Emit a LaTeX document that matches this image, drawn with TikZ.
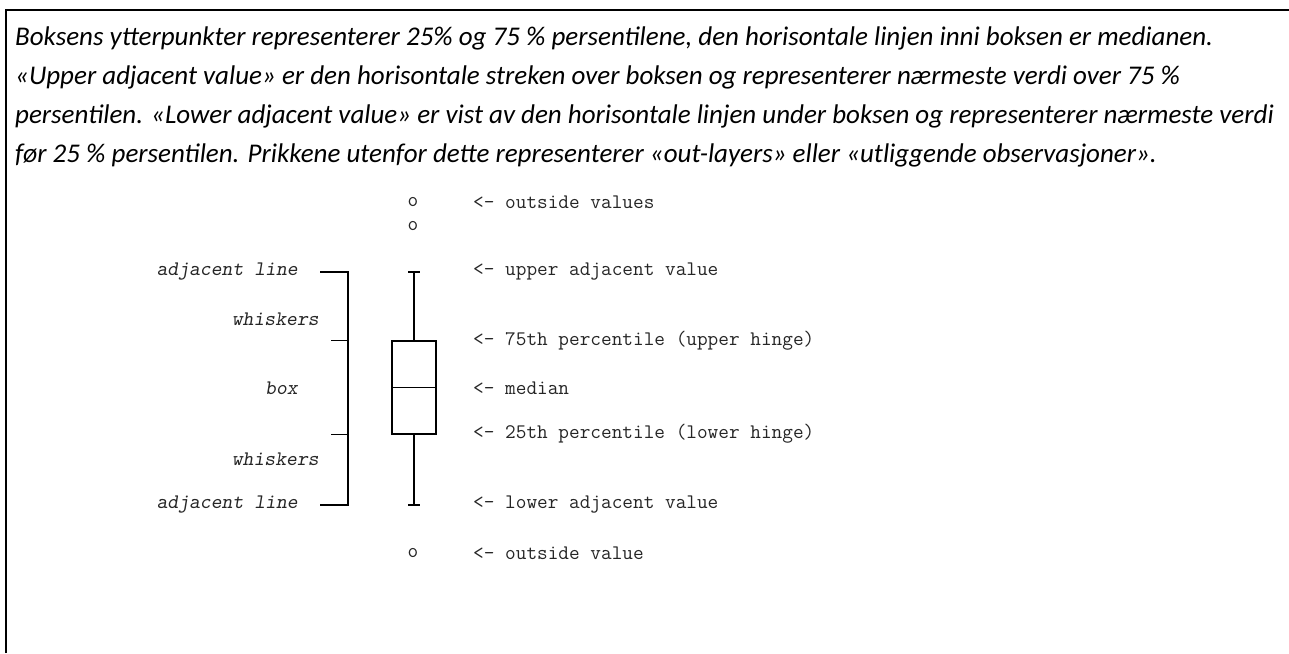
\documentclass[tikz,border=0pt]{standalone}
\usepackage{fontspec}
\usepackage{tikz}
\usetikzlibrary{positioning, calc}
\newfontfamily\calibri{Carlito}
\tikzset{
    para/.style={anchor=base west, inner sep=0pt, font=\calibri\itshape\fontsize{27}{32}\selectfont},
    note/.style={anchor=west, inner sep=0pt, text=black!85, font=\ttfamily\fontsize{20.7}{22}\selectfont},
    part/.style={anchor=east, inner sep=0pt, text=black!85, font=\ttfamily\slshape\fontsize{20.7}{22}\selectfont},
    dot/.style={inner sep=0pt, text=black!85, font=\ttfamily\fontsize{20.7}{22}\selectfont},
    plotline/.style={line width=1.2pt}
}
\begin{document}
\begin{tikzpicture}[x=1pt, y=-1pt]
        \useasboundingbox (0,0) rectangle (1289,653);
        \draw[line width=2pt] (6,653) -- (6,10) -- (1289,10);
        \node[para] (line1) at (15,45) {Boksens ytterpunkter representerer 25\% og 75 \% persentilene, den horisontale linjen inni boksen er medianen.};
        \node[para] (line2) at (15,84) {«Upper adjacent value» er den horisontale streken over boksen og representerer nærmeste verdi over 75 \%};
        \node[para] (line3) at (15,123) {persentilen. «Lower adjacent value» er vist av den horisontale linjen under boksen og representerer nærmeste verdi};
        \node[para] (line4) at (15,162) {før 25 \% persentilen. Prikkene utenfor dette representerer «out-layers» eller «utliggende observasjoner».};
        % box plot
        \node[draw, plotline, minimum width=44pt, minimum height=93pt, inner sep=0pt] (box) at (414,387.5) {};
        \draw[plotline] (box.west) -- (box.east);
        \coordinate (capup) at (414,272);
        \coordinate (capdown) at (414,505);
        \draw[plotline] (box.north) -- (capup);
        \draw[plotline] (box.south) -- (capdown);
        \draw[plotline] ([xshift=-6pt]capup) -- ([xshift=6pt]capup);
        \draw[plotline] ([xshift=-6pt]capdown) -- ([xshift=6pt]capdown);
        \node[dot] (out1) at (413,202) {o};
        \node[dot] (out2) at (413,226) {o};
        \node[dot] (out3) at (413,553) {o};
        % right notes
        \node[note] (noteout) at (473,202) {<- outside values};
        \node[note] (noteup) at (473,272) {<- upper adjacent value};
        \node[note] (note75) at (473,341) {<- 75th percentile (upper hinge)};
        \node[note] (notemed) at (473,388) {<- median};
        \node[note] (note25) at (473,434) {<- 25th percentile (lower hinge)};
        \node[note] (notelow) at (473,505) {<- lower adjacent value};
        \node[note] (noteout2) at (473,553) {<- outside value};
        % left parts
        \node[part] (adjup) at (298,272) {adjacent line};
        \node[part] (whiskup) at (319,319) {whiskers};
        \node[part] (boxlabel) at (298,388) {box};
        \node[part] (whisklow) at (319,459) {whiskers};
        \node[part] (adjlow) at (298,505) {adjacent line};
        % bracket
        \coordinate (brtop) at (348,272);
        \coordinate (brbot) at (348,505);
        \draw[plotline] ([xshift=-28pt]brtop) -- (brtop) -- (brbot) -- ([xshift=-28pt]brbot);
        \draw[plotline] (brtop |- box.north) -- ++(-17,0);
        \draw[plotline] (brtop |- box.south) -- ++(-17,0);
\end{tikzpicture}
\end{document}
